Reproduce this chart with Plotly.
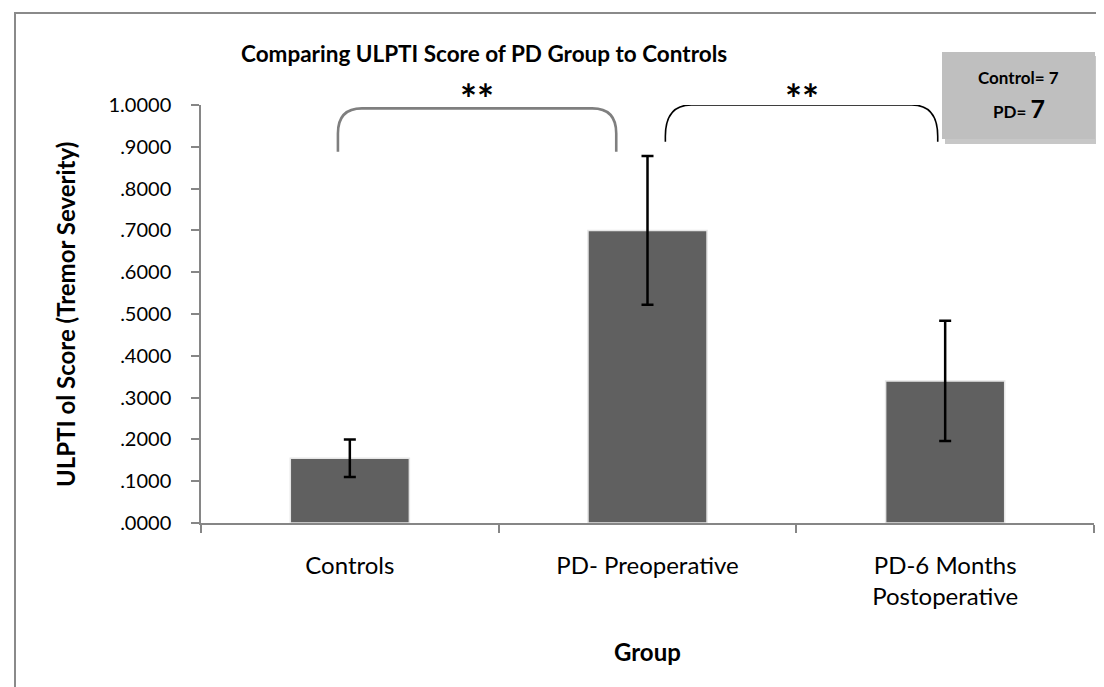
import plotly.graph_objects as go

categories = ["Controls", "PD- Preoperative", "PD-6 Months<br>Postoperative"]
means = [0.155, 0.700, 0.340]
errors = [0.045, 0.178, 0.144]
ytick_vals = [0.0, 0.1, 0.2, 0.3, 0.4, 0.5, 0.6, 0.7, 0.8, 0.9, 1.0]
ytick_text = [".0000", ".1000", ".2000", ".3000", ".4000", ".5000",
              ".6000", ".7000", ".8000", ".9000", "1.0000"]
# significance brackets: (start index, end index, bottom y, top y, label)
brackets = [(-0.04, 0.895, 0.888, 0.992, "**"),
            (1.06, 1.975, 0.912, 1.000, "**")]
bracket_styles = [dict(color="#7f7f7f", width=2.6, rx=24, ry=0.06),
                  dict(color="#000000", width=1.6, rx=26, ry=0.075)]
legend_lines = ["Control= 7", "PD= <span style='font-size:25px'>7</span>"]

W, H = 1104, 687
ML, MR, MT, MB = 193, 18, 97, 172
PW = W - ML - MR
PH = H - MT - MB
FONT = "Lato, 'Open Sans', sans-serif"


def px_x(px):
    return (px - ML) / PW


def px_y(py):
    return (H - MB - py) / PH


def idx_to_paper(i):
    return (i + 0.5) / len(categories)


fig = go.Figure()
fig.add_trace(go.Bar(
    x=categories, y=means,
    marker=dict(color="#606060", line=dict(color="#e6e6e6", width=1.5)),
    error_y=dict(type="data", array=errors, visible=True,
                 color="black", thickness=2.5, width=6),
    width=0.4,
))

shapes = []
annotations = []
for (a, b, yb, yt, lab), st in zip(brackets, bracket_styles):
    x0 = idx_to_paper(a)
    x1 = idx_to_paper(b)
    rx = st["rx"] / PW
    ry = st["ry"]
    path = (f"M {x0},{yb} L {x0},{yt-ry} Q {x0},{yt} {x0+rx},{yt} "
            f"L {x1-rx},{yt} Q {x1},{yt} {x1},{yt-ry} L {x1},{yb}")
    shapes.append(dict(type="path", path=path, xref="paper", yref="y",
                       line=dict(color=st["color"], width=st["width"])))
    annotations.append(dict(x=(x0 + x1) / 2, y=px_y(91), xref="paper", yref="paper",
                            text=f"<b>{lab}</b>", showarrow=False,
                            font=dict(size=40, color="black", family=FONT),
                            xanchor="center", yanchor="middle"))

# legend-like box with shadow
bx0, bx1, by0, by1 = 934, 1087, 44, 131
shapes.append(dict(type="rect", xref="paper", yref="paper",
                   x0=px_x(bx0 + 3), x1=px_x(bx1 + 4), y0=px_y(by0 + 4), y1=px_y(by1 + 5),
                   fillcolor="rgba(0,0,0,0.22)", line=dict(width=0), layer="above"))
shapes.append(dict(type="rect", xref="paper", yref="paper",
                   x0=px_x(bx0), x1=px_x(bx1), y0=px_y(by0), y1=px_y(by1),
                   fillcolor="#bfbfbf", line=dict(width=0), layer="above"))
annotations.append(dict(x=px_x((bx0 + bx1) / 2), y=px_y(70), xref="paper", yref="paper",
                        text=f"<b>{legend_lines[0]}</b>", showarrow=False,
                        font=dict(size=17, color="black", family=FONT),
                        xanchor="center", yanchor="middle"))
annotations.append(dict(x=px_x((bx0 + bx1) / 2), y=px_y(100), xref="paper", yref="paper",
                        text=f"<b>{legend_lines[1]}</b>", showarrow=False,
                        font=dict(size=17, color="black", family=FONT),
                        xanchor="center", yanchor="middle"))

# outer chart border (top and left visible)
shapes.append(dict(type="rect", xref="paper", yref="paper",
                   x0=px_x(7), x1=px_x(W + 20), y0=px_y(H + 20), y1=px_y(5),
                   line=dict(color="#8a8a8a", width=2), layer="below"))

# y-axis title
annotations.append(dict(x=px_x(57), y=px_y(307), xref="paper", yref="paper",
                        text="<b>ULPTI ol Score (Tremor Severity)</b>", textangle=-90,
                        showarrow=False, font=dict(size=24, color="black", family=FONT),
                        xanchor="center", yanchor="middle"))
# x-axis title
annotations.append(dict(x=0.5, y=px_y(643), xref="paper", yref="paper",
                        text="<b>Group</b>", showarrow=False,
                        font=dict(size=24, color="black", family=FONT),
                        xanchor="center", yanchor="middle"))
# chart title
annotations.append(dict(x=px_x(476), y=px_y(45), xref="paper", yref="paper",
                        text="<b>Comparing ULPTI Score of PD Group to Controls</b>",
                        showarrow=False, font=dict(size=22.5, color="black", family=FONT),
                        xanchor="center", yanchor="middle"))

fig.update_layout(
    width=W, height=H,
    margin=dict(l=ML, r=MR, t=MT, b=MB, autoexpand=False),
    paper_bgcolor="white", plot_bgcolor="white",
    showlegend=False,
    shapes=shapes, annotations=annotations,
    font=dict(family=FONT, color="black", size=18),
)
fig.update_yaxes(range=[0, 1.0], tickvals=ytick_vals, ticktext=ytick_text,
                 showgrid=False, showline=True, linecolor="#868686", linewidth=1.5,
                 ticks="outside", ticklen=8, tickcolor="#868686", tickwidth=1.5,
                 ticklabelstandoff=16,
                 tickfont=dict(size=20, family=FONT, color="black"), zeroline=False)
fig.update_xaxes(showgrid=False, showline=True, linecolor="#868686", linewidth=1.5,
                 ticks="outside", ticklen=8, tickcolor="#868686", tickwidth=1.5,
                 tickson="boundaries", tickangle=0, ticklabelstandoff=20,
                 tickfont=dict(size=24, family=FONT, color="black"))

fig.write_html("out.html")
